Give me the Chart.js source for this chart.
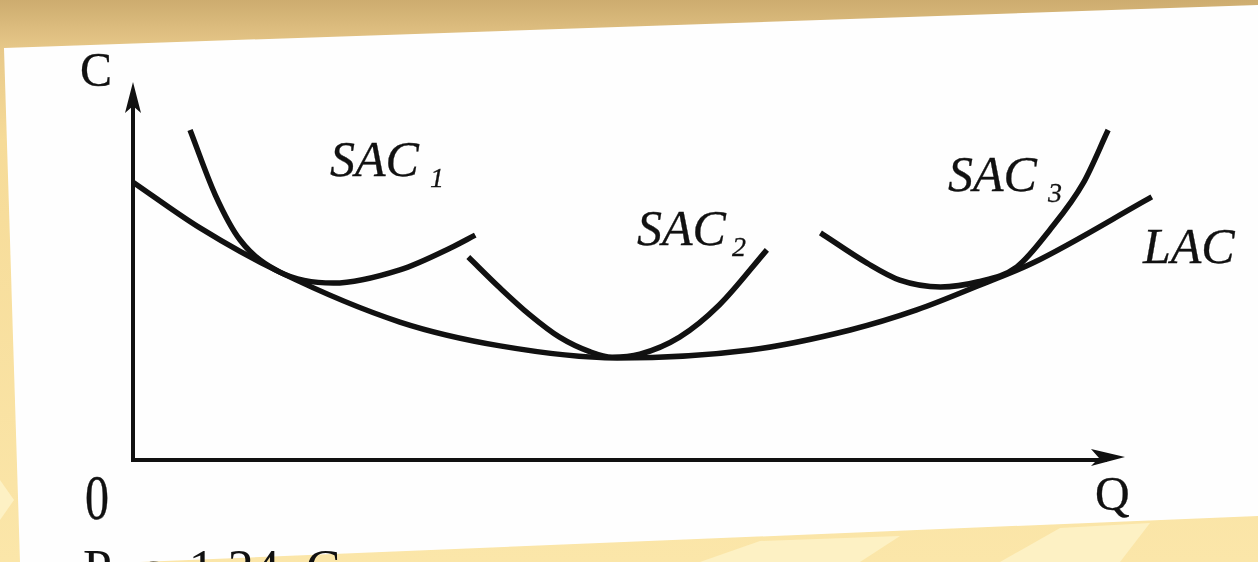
<!DOCTYPE html>
<html>
<head>
<meta charset="utf-8">
<script src="https://cdn.jsdelivr.net/npm/chart.js@4"></script>
<style>
  body {
    margin: 0;
    width: 1258px;
    height: 562px;
    overflow: hidden;
    position: relative;
    background: linear-gradient(180deg, #cdac6f 0%, #e8c98a 9%, #f6db98 25%, #fbe6a9 100%);
  }
  .panel {
    position: absolute;
    left: 0; top: 0; width: 1258px; height: 562px;
    background: #fefefe;
    clip-path: polygon(4px 48px, 1258px 5px, 1258px 516px, 140px 562px, 20px 562px);
  }
  .shard {
    position: absolute;
    left: 0; top: 0; width: 1258px; height: 562px;
    background: #fdf1c4;
  }
  .s1 { clip-path: polygon(700px 562px, 760px 541px, 900px 536px, 860px 562px); }
  .s2 { clip-path: polygon(1000px 562px, 1060px 528px, 1150px 523px, 1120px 562px); }
  .s3 { clip-path: polygon(0px 480px, 14px 500px, 0px 520px); }
  canvas { position: absolute; left: 0; top: 0; }
  .lbl {
    position: absolute;
    font-family: "Liberation Serif", "Times New Roman", serif;
    line-height: 1;
    color: #111;
    white-space: nowrap;
    -webkit-text-stroke: 0.3px #111;
  }
  .it { font-style: italic; font-size: 50px; }
  .sub { font-size: 28px; margin-left: 11px; position: relative; top: 11px; }
  .ax { font-size: 48px; }
</style>
</head>
<body>
<div class="panel"></div>
<div class="shard s1"></div>
<div class="shard s2"></div>
<div class="shard s3"></div>
<canvas id="chart" width="1258" height="562"></canvas>

<div class="lbl ax" style="left:80px;top:46px">C</div>
<div class="lbl ax" style="left:85px;top:467px;transform:scaleY(1.3);transform-origin:top">0</div>
<div class="lbl ax" style="left:1095px;top:470px">Q</div>
<div class="lbl it" style="left:330px;top:134px">SAC<span class="sub">1</span></div>
<div class="lbl it" style="left:637px;top:203px">SAC<span class="sub" style="margin-left:6px">2</span></div>
<div class="lbl it" style="left:948px;top:149px">SAC<span class="sub">3</span></div>
<div class="lbl it" style="left:1143px;top:221px">LAC</div>
<div class="lbl" style="left:83px;top:543px;font-size:52px;-webkit-text-stroke:0">Рис. 1.24. С</div>

<script>
// quantity (Q) and cost (C) in arbitrary units
const lacQ = [0, 6.75, 14.8, 26.9, 37.0, 48.8, 62.2, 72.3, 79.0, 85.4, 90.7, 102.7];
const lacC = [73.5, 61.4, 49.7, 36.5, 30.2, 27.0, 29.1, 34.4, 39.7, 46.3, 52.1, 69.6];

const sac1Q = [5.75, 8.3, 10.8, 14.8, 20.2, 26.9, 32.0, 34.5];
const sac1C = [87.3, 70.1, 58.2, 49.7, 46.8, 50.3, 56.1, 59.5];

const sac2Q = [33.8, 37.0, 40.0, 43.0, 46.1, 48.3, 51.1, 55.1, 59.1, 63.9];
const sac2C = [53.7, 45.5, 38.4, 32.5, 28.6, 27.2, 28.0, 32.5, 41.0, 55.6];

const sac3Q = [69.3, 74.0, 77.3, 81.4, 85.1, 89.1, 92.4, 95.8, 98.3];
const sac3C = [60.1, 52.1, 47.6, 45.8, 47.1, 51.1, 60.8, 73.3, 87.3];

const toPoints = (qs, cs) => qs.map((q, i) => ({ x: q, y: cs[i] }));

const curve = (label, qs, cs) => ({
  label: label,
  data: toPoints(qs, cs),
  borderColor: "#111",
  borderWidth: 5.5,
  pointRadius: 0,
  cubicInterpolationMode: "monotone",
  fill: false,
  clip: false,
});

// draws the two axes with arrow heads at the ends
const axesPlugin = {
  id: "axes",
  beforeDatasetsDraw(chart) {
    const { ctx, scales } = chart;
    const x0 = scales.x.getPixelForValue(0);
    const y0 = scales.y.getPixelForValue(0);
    const xEnd = scales.x.getPixelForValue(100);
    const yEnd = scales.y.getPixelForValue(100);
    ctx.save();
    ctx.strokeStyle = "#111";
    ctx.fillStyle = "#111";
    ctx.lineWidth = 4;
    ctx.lineCap = "square";
    ctx.beginPath();
    ctx.moveTo(x0, yEnd + 20);
    ctx.lineTo(x0, y0);
    ctx.lineTo(xEnd - 20, y0);
    ctx.stroke();
    // y arrow
    ctx.beginPath();
    ctx.moveTo(x0, yEnd);
    ctx.lineTo(x0 - 8, yEnd + 31);
    ctx.lineTo(x0, yEnd + 24);
    ctx.lineTo(x0 + 8, yEnd + 31);
    ctx.closePath();
    ctx.fill();
    // x arrow
    ctx.beginPath();
    ctx.moveTo(xEnd, y0 - 3);
    ctx.lineTo(xEnd - 34, y0 - 11);
    ctx.lineTo(xEnd - 26, y0 - 2);
    ctx.lineTo(xEnd - 34, y0 + 6);
    ctx.closePath();
    ctx.fill();
    ctx.restore();
  },
};

new Chart(document.getElementById("chart").getContext("2d"), {
  type: "line",
  data: {
    datasets: [
      curve("LAC", lacQ, lacC),
      curve("SAC 1", sac1Q, sac1C),
      curve("SAC 2", sac2Q, sac2C),
      curve("SAC 3", sac3Q, sac3C),
    ],
  },
  options: {
    responsive: false,
    animation: false,
    layout: { padding: { left: 133, right: 133, top: 82, bottom: 102 } },
    plugins: { legend: { display: false }, tooltip: { enabled: false } },
    scales: {
      x: { type: "linear", min: 0, max: 100, display: false },
      y: { type: "linear", min: 0, max: 100, display: false },
    },
  },
  plugins: [axesPlugin],
});
</script>
</body>
</html>
